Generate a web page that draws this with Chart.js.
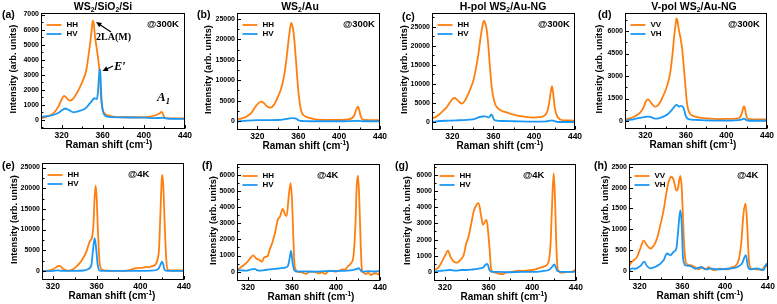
<!DOCTYPE html>
<html>
<head>
<meta charset="utf-8">
<script src="https://cdn.jsdelivr.net/npm/chart.js@4.4.0/dist/chart.umd.min.js"></script>
<style>
  html, body { margin: 0; padding: 0; background: #fff; }
  #fig { position: relative; width: 777px; height: 304px; overflow: hidden; }
  #fig canvas { position: absolute; }
</style>
</head>
<body>
<div id="fig"></div>
<script>
// ---- axis ticks ----
const xTicks = [320, 360, 400, 440];
const xMinor = [300, 340, 380, 420];
const aYTicks = [0, 1000, 2000, 3000, 4000, 5000, 6000, 7000];
const bYTicks = [0, 5000, 10000, 15000, 20000, 25000];
const cYTicks = [0, 5000, 10000, 15000, 20000, 25000];
const dYTicks = [0, 1500, 3000, 4500, 6000];
const eYTicks = [0, 5000, 10000, 15000, 20000, 25000];
const fYTicks = [0, 1000, 2000, 3000, 4000, 5000, 6000];
const gYTicks = [0, 1000, 2000, 3000, 4000, 5000, 6000];
const hYTicks = [0, 500, 1000, 1500, 2000, 2500];

// ---- spectra [Raman shift, intensity] ----
// (a) WS2/SiO2/Si @300K
const aHH = [[300,110],[305,200],[312,440],[317,900],[320,1350],[322.5,1600],[325,1450],[328,1290],[331,1380],[334.5,1750],[338,2200],[341,2660],[344,3300],[346,4200],[348,5200],[349.3,6000],[350.3,6600],[351.3,6400],[352.5,5550],[354.8,4450],[356.7,3350],[357.5,2600],[358.2,1600],[360,680],[362,420],[364,330],[370,220],[380,180],[396,180],[406,220],[412,330],[415.5,450],[417.3,540],[418.5,400],[419.8,180],[422,110],[430,100],[440,100]];
const aHV = [[300,200],[306,260],[312,330],[317,480],[321,680],[323.5,760],[326,700],[329,580],[331.5,510],[334,540],[338,620],[341,680],[344,820],[347.5,1100],[350,1300],[351.5,1440],[353,1420],[354.3,1380],[355.3,1800],[356.2,2700],[357,3300],[357.6,3350],[358.2,2300],[359,1200],[360,650],[362,300],[366,200],[380,170],[400,150],[410,120],[418,140],[425,80],[440,70]];
// (b) WS2/Au @300K
const bHH = [[300,400],[305,650],[309,1060],[314,2000],[318,3500],[321,4400],[323.5,4750],[326,4500],[329,3700],[332.5,3270],[336,3900],[340,5900],[343,7800],[345,9700],[347,12500],[348.7,15800],[350,18800],[351.3,21500],[352.3,23300],[353.2,24100],[354.3,23300],[355.5,21500],[357.7,15000],[359,10500],[360.3,6800],[362.6,2700],[365,1500],[367.5,1060],[372,700],[377,400],[390,260],[400,250],[410,450],[413,800],[415,1500],[416.5,2700],[418.5,3500],[419.8,2600],[421,1300],[422.5,500],[425,250],[440,200]];
const bHV = [[300,-100],[310,100],[320,200],[330,220],[340,250],[346,400],[350,600],[354,700],[357,650],[359,400],[361,100],[365,0],[380,-50],[400,-50],[418,50],[425,-50],[440,-50]];
// (c) H-pol WS2/Au-NG @300K
const cHH = [[300,880],[304,1400],[308,2190],[311,3000],[314.6,3950],[318,5300],[320,6000],[321.8,6300],[324,6000],[326.5,5300],[329.2,4820],[332,5500],[335.7,7460],[338,9000],[340.6,10960],[343,14000],[345.5,17980],[347.2,21500],[348.7,24100],[350,26000],[351,26580],[352.3,25800],[353.6,24100],[355,20500],[356.2,16230],[357.3,12500],[358.4,9210],[360.7,5700],[362.5,4300],[365,3500],[368,2950],[371.4,2630],[377,2150],[382.8,1750],[390,1400],[399,1140],[405,1250],[410.4,1750],[413,2800],[414.6,4820],[416,7500],[417.5,9390],[418.8,7200],[420.1,3950],[421.5,2200],[423.4,1140],[428,440],[435,400],[440,350]];
const cHV = [[300,0],[308,260],[316,350],[324,440],[330,480],[337,610],[342,850],[347,1320],[350,1450],[352,1490],[354,1300],[355.5,1150],[357,1600],[358,1950],[359,1700],[360.7,610],[363,350],[369.8,260],[380,200],[399,90],[412,150],[417.5,440],[420,200],[423,0],[440,0]];
// (d) V-pol WS2/Au-NG @300K
const dVV = [[300,110],[305,180],[309,290],[312.5,430],[315.7,620],[318.5,950],[320.5,1300],[322.3,1440],[324,1380],[326.5,1150],[329.6,955],[332.5,1050],[335,1300],[337.2,1620],[340,2050],[342.2,2510],[344.5,3200],[346.2,4070],[347.6,5000],[348.8,5840],[350,6500],[350.8,6840],[351.8,6650],[353.1,6070],[354.8,5510],[356.5,4730],[357.6,3900],[358.8,2960],[360.8,1400],[362,850],[363.8,510],[367,350],[372,240],[382,170],[392,130],[405,150],[411.8,180],[414,320],[415.5,600],[417.4,1000],[418.5,750],[419.8,290],[422,130],[430,110],[440,110]];
const dVH = [[300,20],[306,90],[312,180],[317,240],[320,280],[322.3,300],[325,270],[328,200],[330.6,155],[334,200],[339,330],[342,450],[346,730],[348.5,950],[350.5,1070],[352,1040],[353,955],[354.5,990],[355.5,1000],[357,955],[358,800],[358.8,620],[360,330],[361.4,180],[365,100],[372,70],[390,30],[405,30],[412,60],[415,100],[417.4,155],[419,90],[422,20],[440,20]];
// (e) WS2/SiO2/Si @4K
const eHH = [[310,0],[315.5,80],[320,400],[323,900],[325.6,1210],[327.5,1000],[329.2,480],[331.5,200],[333.8,80],[336,150],[338.4,400],[340.5,800],[343,1450],[345.5,2200],[347.5,3060],[349.5,4000],[351.2,5080],[353.6,7100],[355.8,8150],[357,10730],[358.2,17980],[359.1,20650],[360,17980],[361.3,9110],[362.8,1850],[365.2,240],[370,50],[375,0],[387,80],[392,350],[396.4,650],[401,750],[405.5,890],[409,1000],[411.6,1210],[414.7,1850],[416,3000],[417.1,5080],[418.3,13150],[419.6,22020],[420.2,23230],[421.1,20400],[422.3,11530],[423.8,2660],[425.3,240],[430,100],[440,100]];
const eHV = [[310,-100],[320,0],[324.6,150],[328,0],[340,0],[348,100],[352,400],[355.2,1450],[356.7,5080],[358.2,7900],[359.4,5890],[361,1450],[362.8,80],[366,0],[380,0],[400,0],[410,50],[416.2,400],[418.5,1500],[419.9,2260],[421,1600],[422.3,240],[425,0],[440,0]];
// (f) WS2/Au @4K
const fHH = [[310,100],[315.2,350],[319.7,620],[322.7,890],[324.8,1010],[327.3,830],[330.3,720],[332.7,620],[334.8,890],[337.9,970],[339.4,1300],[342.4,1860],[344.8,2480],[347,3210],[349.1,3420],[351.5,3890],[353.9,3520],[355.2,3460],[357,4660],[358.8,5490],[360,4450],[361.2,2170],[362.4,310],[365.2,0],[369.7,-60],[372.7,-140],[375.5,-20],[378.8,0],[382,-40],[384.8,-100],[387.5,-50],[390.3,-140],[393.9,60],[397,40],[400,0],[403,60],[406,140],[408,120],[410.6,310],[413.6,520],[415.8,930],[417.6,2800],[418.8,5280],[420,5960],[421.2,4450],[422.4,1760],[423.6,100],[425,-60],[427.3,-140],[429.5,-60],[431.8,-210],[434,-120],[436.4,-100],[438.5,-180],[440,100]];
const fHV = [[310,100],[314,80],[318,60],[322,120],[325.8,170],[328,100],[330,60],[335,100],[339.4,140],[344,170],[348.5,210],[354.5,270],[356,330],[357,520],[358,900],[359.1,1280],[359.8,1000],[360.6,520],[362.4,60],[365,0],[370,20],[380,0],[390,30],[400,40],[410,60],[415.2,100],[418,150],[420.6,210],[422,120],[423.5,0],[430,30],[435,10],[440,60]];
// (g) H-pol WS2/Au-NG @4K
const gHH = [[310,120],[314.3,290],[317.3,640],[320.4,1050],[322.8,1320],[325,950],[328,640],[331,580],[334.1,740],[337.2,1050],[339.6,1770],[341.7,2190],[344.2,3010],[346.3,3730],[348.8,4140],[350.9,4250],[353,3530],[354.9,2910],[357,3150],[358.2,3220],[359.4,2600],[361,1360],[362.5,120],[366.1,-40],[372.3,-140],[376,-40],[381.4,0],[384,40],[387.5,80],[392,60],[396,100],[399.7,120],[403,160],[405.8,230],[409,300],[411.9,370],[415,640],[416.8,1770],[418,3840],[419.6,6100],[420.8,4660],[422,1770],[423.5,120],[427.2,-40],[432,0],[436,10],[440,160]];
const gHV = [[310,20],[315,60],[320,100],[325,120],[330,80],[335,120],[340,120],[345,150],[350.9,210],[355,280],[357,430],[358.5,490],[359.5,420],[360.7,120],[363,0],[370,0],[380,-20],[390,0],[400,0],[410,60],[415,120],[418,300],[420.2,470],[421.5,300],[423,60],[428,0],[440,0]];
// (h) V-pol WS2/Au-NG @4K
const hVV = [[310,120],[312.8,224],[317.5,340],[320.6,540],[323.7,730],[326.8,620],[330,540],[333,600],[336.2,780],[339.3,1100],[342.4,1460],[344.9,1860],[347.1,2140],[349.6,2260],[351.8,2180],[354.3,1930],[355.8,1980],[358,2280],[359.3,2020],[360.5,1300],[361.7,580],[363.6,180],[367.4,140],[372,90],[375.1,40],[378.3,100],[381.4,40],[384.5,90],[389.2,20],[395.4,55],[401.6,40],[406.3,90],[409.4,120],[412.6,260],[415,660],[417.2,1380],[419.1,1620],[420.7,1060],[422.2,260],[424.1,65],[429.7,40],[434.4,25],[437.5,120],[440,90]];
const hVH = [[310,0],[312.8,65],[315.9,55],[320.6,120],[324.3,224],[326.8,120],[330,65],[336.2,120],[342.4,260],[345.5,420],[348.7,380],[351.8,460],[354.3,540],[355.8,900],[358,1460],[359.3,1140],[360.5,340],[362.7,140],[367.4,120],[372,55],[376.7,90],[383,40],[386,65],[392.3,40],[401.6,55],[411,90],[415.7,180],[419.4,380],[421.3,100],[423.5,40],[429,65],[436,25],[438.4,170],[440,100]];

const ORANGE = '#ff7f0e';
const BLUE = '#1b98f5';
const SANS = "'Liberation Sans', Arial, sans-serif";
const SERIF = "'Liberation Serif', 'Times New Roman', serif";

// layout of the eight panels (figure pixels)
const panels = [
  { box: [0, 0, 195, 152], plot: [41, 13, 185, 129], xMin: 300, yMin: -600, yMax: 7100, yTicks: aYTicks, lines: [aHH, aHV], names: ['HH', 'HV'],
    title: [['WS'], ['2', 'sub'], ['/SiO'], ['2', 'sub'], ['/Si']], titleX: 103, label: '(a)', labelXY: [2, 15.5], temp: '@300K', tempX: 147, yTitleX: 13, xTitleX: 109, notes: true },
  { box: [195, 0, 390, 152], plot: [237, 13, 380, 130], xMin: 300, yMin: -2200, yMax: 26500, yTicks: bYTicks, lines: [bHH, bHV], names: ['HH', 'HV'],
    title: [['WS'], ['2', 'sub'], ['/Au']], titleX: 300, label: '(b)', labelXY: [197, 15.5], temp: '@300K', tempX: 343, yTitleX: 208, xTitleX: 306 },
  { box: [390, 0, 585, 152], plot: [432, 13, 575, 130], xMin: 300, yMin: -2100, yMax: 28600, yTicks: cYTicks, lines: [cHH, cHV], names: ['HH', 'HV'],
    title: [['H-pol WS'], ['2', 'sub'], ['/Au-NG']], titleX: 503, label: '(c)', labelXY: [402, 17], temp: '@300K', tempX: 538, yTitleX: 404, xTitleX: 500 },
  { box: [585, 0, 777, 152], plot: [625, 13, 767, 129], xMin: 300, yMin: -530, yMax: 7200, yTicks: dYTicks, lines: [dVV, dVH], names: ['VV', 'VH'],
    title: [['V-pol WS'], ['2', 'sub'], ['/Au-NG']], titleX: 694, label: '(d)', labelXY: [598, 15], temp: '@300K', tempX: 728, yTitleX: 599, xTitleX: 693 },
  { box: [0, 152, 195, 304], plot: [42, 163, 184, 280], xMin: 310, yMin: -2200, yMax: 26100, yTicks: eYTicks, lines: [eHH, eHV], names: ['HH', 'HV'],
    label: '(e)', labelXY: [2, 166], temp: '@4K', tempX: 128, yTitleX: 14, xTitleX: 112 },
  { box: [195, 152, 390, 304], plot: [237, 164, 380, 281], xMin: 310, yMin: -580, yMax: 6680, yTicks: fYTicks, lines: [fHH, fHV], names: ['HH', 'HV'],
    label: '(f)', labelXY: [202, 166], temp: '@4K', tempX: 317, yTitleX: 213, xTitleX: 311 },
  { box: [390, 152, 585, 304], plot: [434, 164, 576, 281], xMin: 310, yMin: -560, yMax: 6670, yTicks: gYTicks, lines: [gHH, gHV], names: ['HH', 'HV'],
    label: '(g)', labelXY: [395, 166], temp: '@4K', tempX: 523, yTitleX: 407, xTitleX: 504 },
  { box: [585, 152, 777, 304], plot: [629, 164, 768, 280], xMin: 310, yMin: -215, yMax: 2565, yTicks: hYTicks, lines: [hVV, hVH], names: ['VV', 'VH'],
    label: '(h)', labelXY: [594, 166], temp: '@4K', tempX: 737, yTitleX: 605, xTitleX: 700 }
];

// text with sub/superscript pieces
function drawRich(ctx, parts, x, y, size, align, family, style) {
  family = family || SANS;
  const fontOf = k => (style ? style + ' ' : '') + 'bold ' + (k ? size * 0.65 : size) + 'px ' + family;
  let w = 0;
  parts.forEach(([t, k]) => { ctx.font = fontOf(k); w += ctx.measureText(t).width; });
  let cx = align === 'center' ? x - w / 2 : (align === 'right' ? x - w : x);
  ctx.textAlign = 'left';
  ctx.textBaseline = 'middle';
  parts.forEach(([t, k]) => {
    ctx.font = fontOf(k);
    const dy = k === 'sub' ? size * 0.28 : (k === 'sup' ? -size * 0.32 : 0);
    ctx.fillText(t, cx, y + dy);
    cx += ctx.measureText(t).width;
  });
}

function arrow(ctx, x1, y1, x2, y2) {
  const a = Math.atan2(y2 - y1, x2 - x1);
  const c = Math.cos(a), s = Math.sin(a);
  ctx.lineWidth = 1.2;
  ctx.beginPath();
  ctx.moveTo(x1, y1);
  ctx.lineTo(x2 - 3 * c, y2 - 3 * s);
  ctx.stroke();
  ctx.beginPath();
  ctx.moveTo(x2, y2);
  ctx.lineTo(x2 - 5.5 * c + 2.6 * s, y2 - 5.5 * s - 2.6 * c);
  ctx.lineTo(x2 - 5.5 * c - 2.6 * s, y2 - 5.5 * s + 2.6 * c);
  ctx.closePath();
  ctx.fill();
}

function makeDecor(p) {
  return {
    id: 'decor',
    afterDraw(chart) {
      const ctx = chart.ctx;
      const ox = p.box[0], oy = p.box[1];
      const xs = chart.scales.x, ys = chart.scales.y;
      const area = chart.chartArea;
      const L = Math.round(area.left) + 0.5, T = Math.round(area.top) + 0.5;
      const R = Math.round(area.right) - 0.5, B = Math.round(area.bottom) - 0.5;
      ctx.save();
      ctx.strokeStyle = '#000';
      ctx.fillStyle = '#000';
      ctx.lineWidth = 1;
      ctx.strokeRect(L, T, R - L, B - T);

      // inward tick marks
      ctx.beginPath();
      xTicks.forEach(v => {
        const x = Math.round(xs.getPixelForValue(v)) + 0.5;
        ctx.moveTo(x, B); ctx.lineTo(x, B - 3.5);
      });
      xMinor.filter(v => v > p.xMin).forEach(v => {
        const x = Math.round(xs.getPixelForValue(v)) + 0.5;
        ctx.moveTo(x, B); ctx.lineTo(x, B - 2);
      });
      const step = p.yTicks[1] - p.yTicks[0];
      p.yTicks.forEach(v => {
        const y = Math.round(ys.getPixelForValue(v)) + 0.5;
        ctx.moveTo(L, y); ctx.lineTo(L + 3.5, y);
      });
      for (let v = -step / 2; v < p.yMax; v += step) {
        if (v <= p.yMin) continue;
        const y = Math.round(ys.getPixelForValue(v)) + 0.5;
        ctx.moveTo(L, y); ctx.lineTo(L + 2, y);
      }
      ctx.stroke();

      // legend
      [ORANGE, BLUE].forEach((col, i) => {
        const y = T + 11.5 + i * 9;
        ctx.strokeStyle = col;
        ctx.lineWidth = 1.8;
        ctx.beginPath();
        ctx.moveTo(L + 5, y); ctx.lineTo(L + 20, y);
        ctx.stroke();
        ctx.fillStyle = '#000';
        drawRich(ctx, [[p.names[i]]], L + 25, y, 8, 'left');
      });
      ctx.fillStyle = '#000';
      ctx.strokeStyle = '#000';

      // temperature
      drawRich(ctx, [[p.temp]], p.tempX - ox, T + 11, 9.5, 'left');
      // panel label and title
      drawRich(ctx, [[p.label]], p.labelXY[0] - ox, p.labelXY[1] - oy, 10.5, 'left');
      if (p.title) drawRich(ctx, p.title, p.titleX - ox, 7, 10.5, 'center');
      // axis titles
      drawRich(ctx, [['Raman shift (cm'], ['-1', 'sup'], [')']], p.xTitleX - ox, B + 16.5, 10, 'center');
      ctx.save();
      ctx.translate(p.yTitleX - ox, (T + B) / 2 - 2);
      ctx.rotate(-Math.PI / 2);
      drawRich(ctx, [['Intensity (arb. units)']], 0, 0, 9.3, 'center');
      ctx.restore();

      // peak annotations
      if (p.notes) {
        drawRich(ctx, [['2LA(M)']], 96, 37.5, 10, 'left', SERIF);
        arrow(ctx, 111, 32, 96, 22);
        drawRich(ctx, [['E\u2032']], 114, 67, 12.5, 'left', SERIF, 'italic');
        arrow(ctx, 113, 66, 102.5, 71);
        drawRich(ctx, [['A'], ['1', 'sub']], 157, 98, 13, 'left', SERIF, 'italic');
      }
      ctx.restore();
    }
  };
}

const fig = document.getElementById('fig');
panels.forEach(p => {
  const [bx0, by0, bx1, by1] = p.box;
  const [pl, pt, pr, pb] = p.plot;
  const canvas = document.createElement('canvas');
  canvas.width = bx1 - bx0;
  canvas.height = by1 - by0;
  canvas.style.left = bx0 + 'px';
  canvas.style.top = by0 + 'px';
  fig.appendChild(canvas);

  new Chart(canvas.getContext('2d'), {
    type: 'line',
    data: {
      datasets: p.lines.map((pts, i) => ({
        label: p.names[i],
        data: pts.map(([x, y]) => ({ x, y })),
        borderColor: i === 0 ? ORANGE : BLUE,
        borderWidth: 1.8,
        pointRadius: 0,
        cubicInterpolationMode: 'monotone',
        order: i === 0 ? 2 : 1
      }))
    },
    options: {
      responsive: false,
      animation: false,
      devicePixelRatio: 1,
      events: [],
      layout: { padding: { top: pt - by0, right: bx1 - pr, left: 0, bottom: 0 } },
      plugins: { legend: { display: false }, tooltip: { enabled: false } },
      scales: {
        x: {
          type: 'linear',
          min: p.xMin,
          max: 440,
          grid: { display: false, drawTicks: false },
          border: { display: false },
          afterBuildTicks: s => { s.ticks = xTicks.map(v => ({ value: v })); },
          afterFit: s => { s.height = by1 - pb; },
          ticks: {
            autoSkip: false, maxRotation: 0, padding: 2, color: '#000',
            font: { family: SANS, size: 8.5, weight: 'bold' },
            callback: v => String(v)
          }
        },
        y: {
          type: 'linear',
          min: p.yMin,
          max: p.yMax,
          grid: { display: false, drawTicks: false },
          border: { display: false },
          afterBuildTicks: s => { s.ticks = p.yTicks.map(v => ({ value: v })); },
          afterFit: s => { s.width = pl - bx0; },
          ticks: {
            autoSkip: false, padding: 2, color: '#000',
            font: { family: SANS, size: 7, weight: 'bold' },
            callback: v => String(v)
          }
        }
      }
    },
    plugins: [makeDecor(p)]
  });
});
</script>
</body>
</html>
